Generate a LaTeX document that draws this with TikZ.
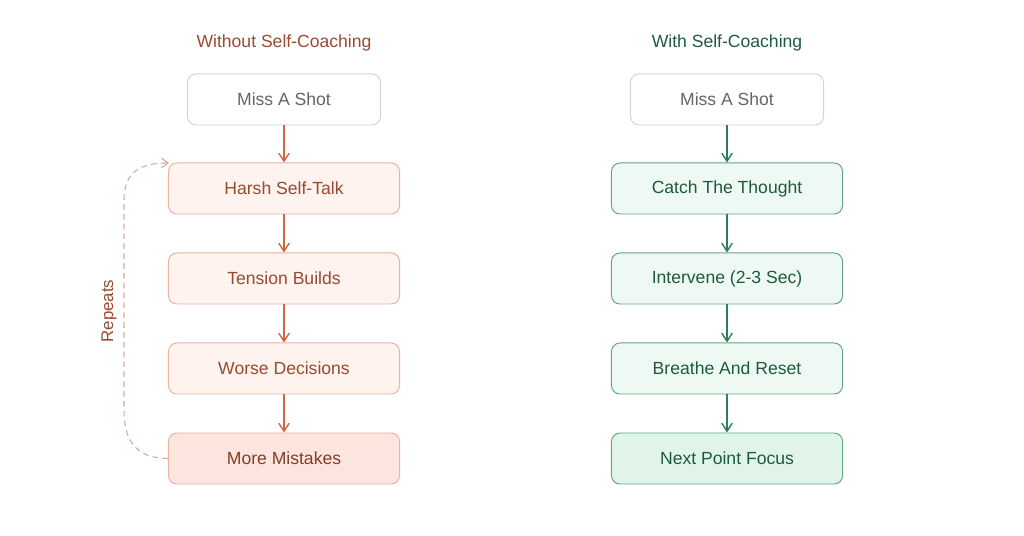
\documentclass[tikz,border=0pt]{standalone}
\usepackage{fontspec}
\setmainfont{Liberation Sans}
\usepackage{xcolor}
\usetikzlibrary{arrows.meta, positioning}
\definecolor{badtext}{HTML}{9A4A2E}
\definecolor{badline}{HTML}{D2643F}
\definecolor{badfill}{HTML}{FEF3EF}
\definecolor{baddark}{HTML}{FBE5DE}
\definecolor{badedge}{HTML}{E9B3A0}
\definecolor{baddash}{HTML}{DCA9A0}
\definecolor{goodtext}{HTML}{1D5A40}
\definecolor{goodline}{HTML}{2E7D5B}
\definecolor{goodfill}{HTML}{EEF9F3}
\definecolor{gooddark}{HTML}{E0F4EA}
\definecolor{goodedge}{HTML}{64A586}
\definecolor{startgray}{HTML}{666666}
\definecolor{startedge}{HTML}{D4D4D4}

\begin{document}
\begin{tikzpicture}[
  x=0.025cm, y=-0.025cm,
  stepbox/.style={rounded corners=6pt, minimum width=5.775cm, minimum height=1.275cm, align=center, font=\fontsize{12.5}{15}\selectfont, line width=0.7pt},
  startbox/.style={stepbox, draw=startedge, fill=white, text=startgray, minimum width=4.825cm},
  badbox/.style={stepbox, draw=badedge, fill=badfill, text=badtext},
  goodbox/.style={stepbox, draw=goodedge, fill=goodfill, text=goodtext},
  coltitle/.style={font=\fontsize{12.5}{15}\selectfont},
  badarr/.style={-{Straight Barb[length=2mm, width=2.6mm]}, badline, line width=1pt},
  goodarr/.style={-{Straight Barb[length=2mm, width=2.6mm]}, goodline, line width=1pt}
]
  \useasboundingbox (0,0) rectangle (1024,536);

  % left column
  \node[coltitle, text=badtext] (badtitle) at (284,43) {Without Self-Coaching};
  \node[startbox] (badmiss) at (284,99.5) {Miss A Shot};
  \node[badbox] (harsh) at (284,188.5) {Harsh Self-Talk};
  \node[badbox] (tension) at (284,278.5) {Tension Builds};
  \node[badbox] (worse) at (284,368.5) {Worse Decisions};
  \node[badbox, fill=baddark, text=badtext!85!black] (mistakes) at (284,458.5) {More Mistakes};

  \draw[badarr] (badmiss) -- (harsh);
  \draw[badarr] (harsh) -- (tension);
  \draw[badarr] (tension) -- (worse);
  \draw[badarr] (worse) -- (mistakes);

  % loop back
  \draw[baddash, dashed, dash pattern=on 4pt off 3pt, line width=0.8pt, -{Straight Barb[length=1.6mm, width=2.4mm]}]
    (mistakes.west) .. controls (135,458) and (124,440) .. (124,410)
    -- (124,200) .. controls (124,172) and (140,163) .. (169,163);
  \node[text=badtext, rotate=90, font=\fontsize{12}{14}\selectfont] (repeats) at (109,311) {Repeats};

  % right column
  \node[coltitle, text=goodtext] (goodtitle) at (727,43) {With Self-Coaching};
  \node[startbox] (goodmiss) at (727,99.5) {Miss A Shot};
  \node[goodbox] (catch) at (727,188.5) {Catch The Thought};
  \node[goodbox] (intervene) at (727,278.5) {Intervene (2-3 Sec)};
  \node[goodbox] (breathe) at (727,368.5) {Breathe And Reset};
  \node[goodbox, fill=gooddark] (focus) at (727,458.5) {Next Point Focus};

  \draw[goodarr] (goodmiss) -- (catch);
  \draw[goodarr] (catch) -- (intervene);
  \draw[goodarr] (intervene) -- (breathe);
  \draw[goodarr] (breathe) -- (focus);
\end{tikzpicture}
\end{document}
